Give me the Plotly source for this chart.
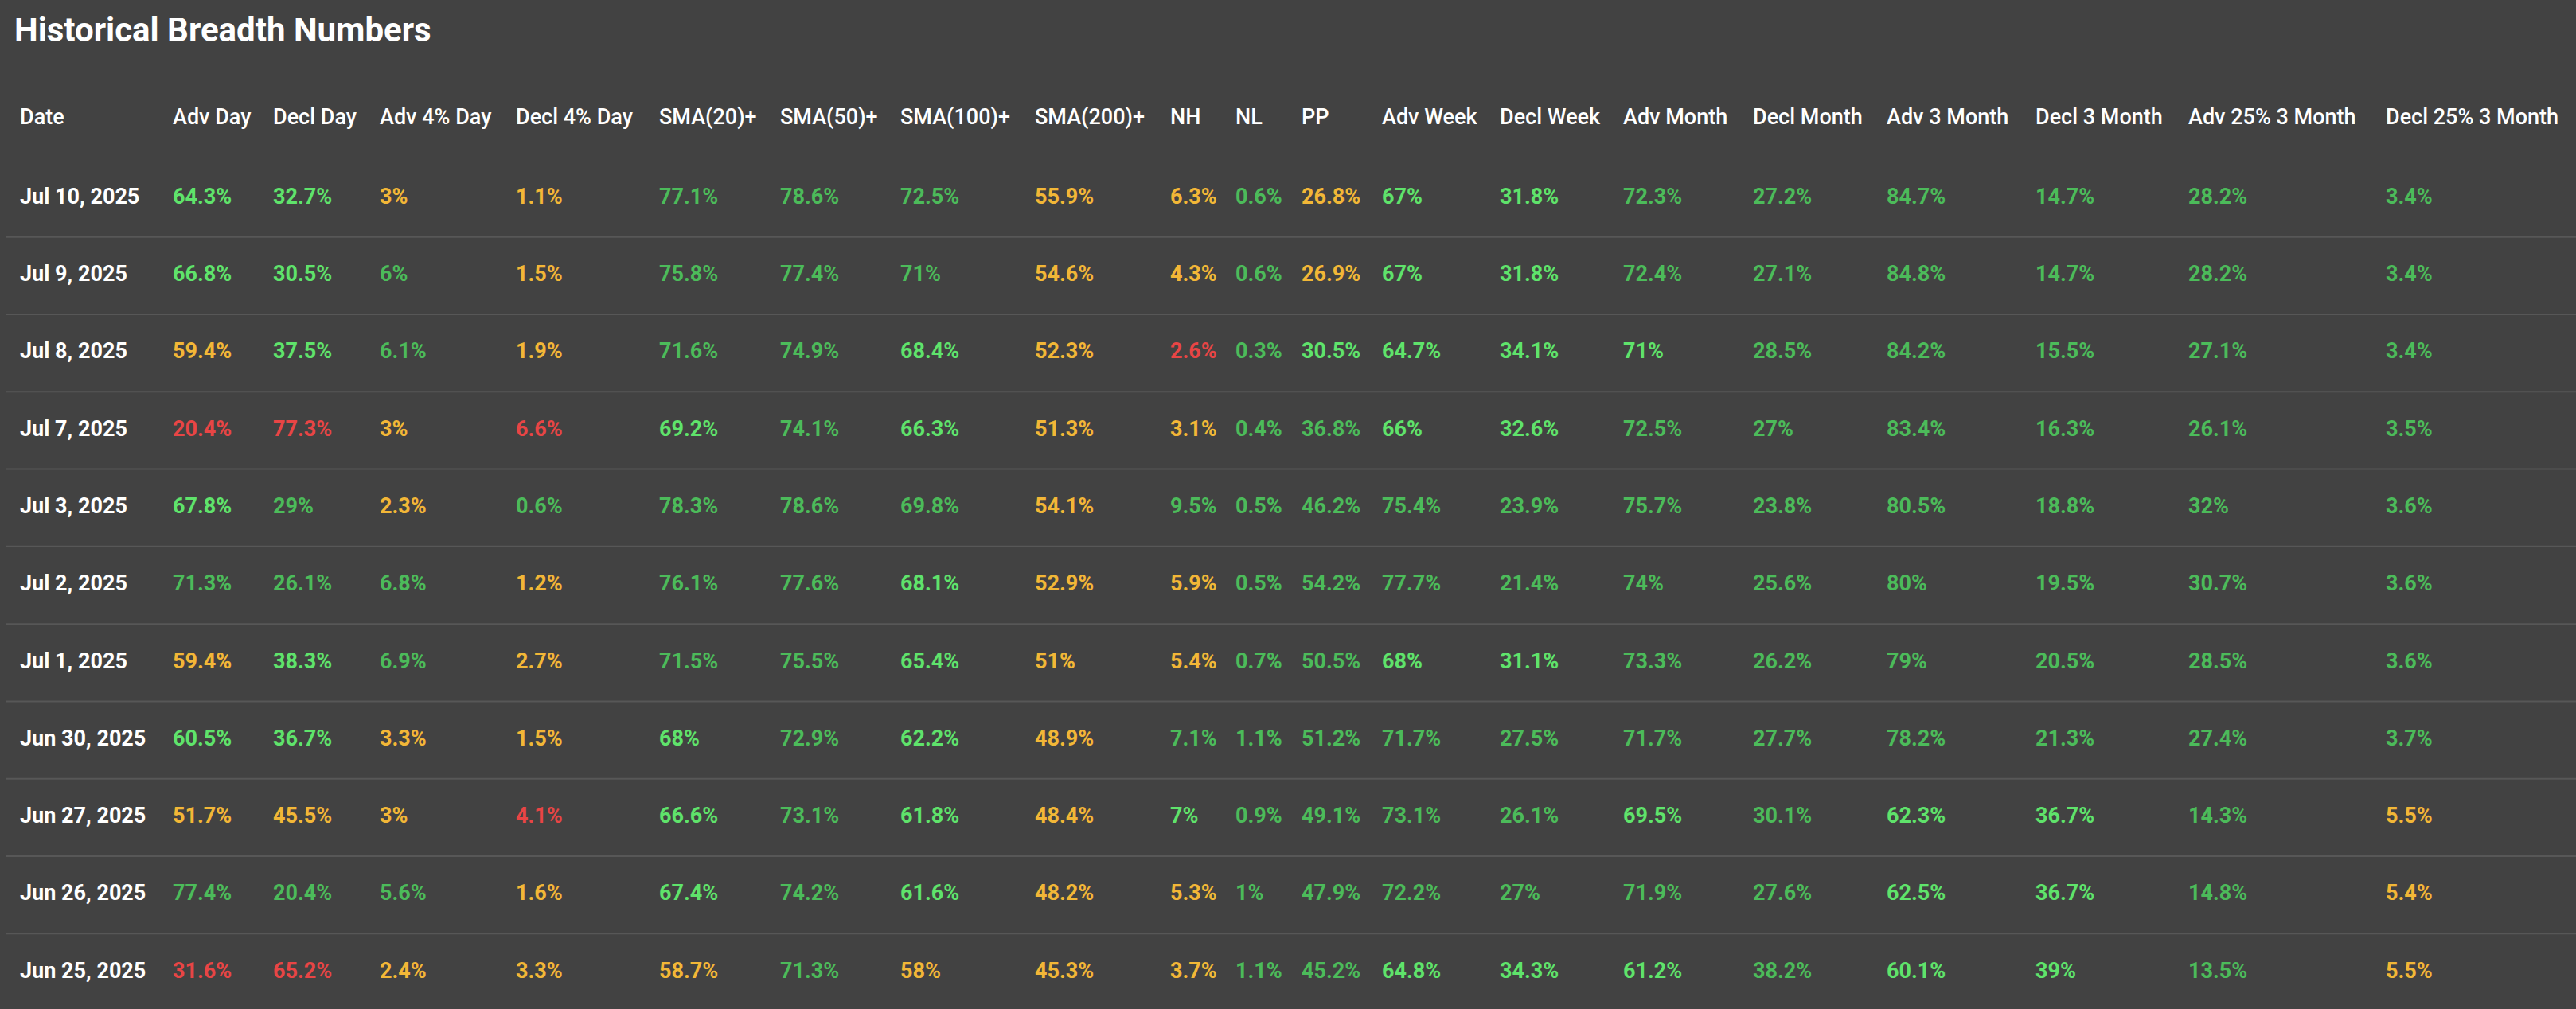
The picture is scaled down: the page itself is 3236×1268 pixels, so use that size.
import plotly.graph_objects as go

title = "Historical Breadth Numbers"
headers = ["Date", "Adv Day", "Decl Day", "Adv 4% Day", "Decl 4% Day", "SMA(20)+", "SMA(50)+",
           "SMA(100)+", "SMA(200)+", "NH", "NL", "PP", "Adv Week", "Decl Week", "Adv Month",
           "Decl Month", "Adv 3 Month", "Decl 3 Month", "Adv 25% 3 Month", "Decl 25% 3 Month"]
dates = ["Jul 10, 2025", "Jul 9, 2025", "Jul 8, 2025", "Jul 7, 2025", "Jul 3, 2025", "Jul 2, 2025",
         "Jul 1, 2025", "Jun 30, 2025", "Jun 27, 2025", "Jun 26, 2025", "Jun 25, 2025"]
values = [
    ["64.3%", "32.7%", "3%", "1.1%", "77.1%", "78.6%", "72.5%", "55.9%", "6.3%", "0.6%", "26.8%", "67%", "31.8%", "72.3%", "27.2%", "84.7%", "14.7%", "28.2%", "3.4%"],
    ["66.8%", "30.5%", "6%", "1.5%", "75.8%", "77.4%", "71%", "54.6%", "4.3%", "0.6%", "26.9%", "67%", "31.8%", "72.4%", "27.1%", "84.8%", "14.7%", "28.2%", "3.4%"],
    ["59.4%", "37.5%", "6.1%", "1.9%", "71.6%", "74.9%", "68.4%", "52.3%", "2.6%", "0.3%", "30.5%", "64.7%", "34.1%", "71%", "28.5%", "84.2%", "15.5%", "27.1%", "3.4%"],
    ["20.4%", "77.3%", "3%", "6.6%", "69.2%", "74.1%", "66.3%", "51.3%", "3.1%", "0.4%", "36.8%", "66%", "32.6%", "72.5%", "27%", "83.4%", "16.3%", "26.1%", "3.5%"],
    ["67.8%", "29%", "2.3%", "0.6%", "78.3%", "78.6%", "69.8%", "54.1%", "9.5%", "0.5%", "46.2%", "75.4%", "23.9%", "75.7%", "23.8%", "80.5%", "18.8%", "32%", "3.6%"],
    ["71.3%", "26.1%", "6.8%", "1.2%", "76.1%", "77.6%", "68.1%", "52.9%", "5.9%", "0.5%", "54.2%", "77.7%", "21.4%", "74%", "25.6%", "80%", "19.5%", "30.7%", "3.6%"],
    ["59.4%", "38.3%", "6.9%", "2.7%", "71.5%", "75.5%", "65.4%", "51%", "5.4%", "0.7%", "50.5%", "68%", "31.1%", "73.3%", "26.2%", "79%", "20.5%", "28.5%", "3.6%"],
    ["60.5%", "36.7%", "3.3%", "1.5%", "68%", "72.9%", "62.2%", "48.9%", "7.1%", "1.1%", "51.2%", "71.7%", "27.5%", "71.7%", "27.7%", "78.2%", "21.3%", "27.4%", "3.7%"],
    ["51.7%", "45.5%", "3%", "4.1%", "66.6%", "73.1%", "61.8%", "48.4%", "7%", "0.9%", "49.1%", "73.1%", "26.1%", "69.5%", "30.1%", "62.3%", "36.7%", "14.3%", "5.5%"],
    ["77.4%", "20.4%", "5.6%", "1.6%", "67.4%", "74.2%", "61.6%", "48.2%", "5.3%", "1%", "47.9%", "72.2%", "27%", "71.9%", "27.6%", "62.5%", "36.7%", "14.8%", "5.4%"],
    ["31.6%", "65.2%", "2.4%", "3.3%", "58.7%", "71.3%", "58%", "45.3%", "3.7%", "1.1%", "45.2%", "64.8%", "34.3%", "61.2%", "38.2%", "60.1%", "39%", "13.5%", "5.5%"],
]
# colour class per cell: G bright green, g green, y amber, r red
classes = [
    "GGyygggyygyGGgggggg",
    "GGgygggyygyGGgggggg",
    "yGgyggGyrgGGGGggggg",
    "rryrGgGyyggGGgggggg",
    "Ggygggggyggggggggggg"[:0] + "Ggyggggyggggggggggg",
    "gggyggGyygggggggggg",
    "yGgyggGyyggGGgggggg",
    "GGyyGgGyggggggggggg",
    "yyyrGgGyGggggGgGGgy",
    "gggyGgGyyggggggGGgy",
    "rryyygyyyggGGGgGGgy",
]

palette = {"G": "#5fe36b", "g": "#4cbb5a", "y": "#f2b737", "r": "#e84545"}
col_x = [25, 217, 343, 477, 648, 828, 980, 1131, 1300, 1470, 1552, 1635, 1736, 1884, 2039, 2202, 2370, 2557, 2749, 2997]
row0, step = 249, 97.3
BG = "#424242"

fig = go.Figure()
fig.add_trace(go.Scatter(x=col_x, y=[-1.03] * len(headers), mode="text", text=headers,
                         textposition="middle right", hoverinfo="skip",
                         textfont=dict(family="Roboto", size=27, color="#ffffff", weight=500)))
for i, (d, row, cls) in enumerate(zip(dates, values, classes)):
    fig.add_trace(go.Scatter(x=col_x, y=[i] * len(col_x), mode="text", text=[d] + row,
                             textposition="middle right", hoverinfo="skip",
                             textfont=dict(family="Roboto", size=27, weight="bold",
                                           color=["#ffffff"] + [palette[c] for c in cls])))
for i in range(len(dates) - 1):
    fig.add_shape(type="line", x0=8, x1=3236, y0=i + 0.5, y1=i + 0.5, xref="x", yref="y",
                  line=dict(color="#575757", width=2), layer="below")

fig.add_annotation(text=title, xref="paper", yref="paper", x=16 / 3236, y=1 - 37 / 1268,
                   xanchor="left", yanchor="middle", showarrow=False,
                   font=dict(family="Roboto", size=42, color="#ffffff", weight="bold"))

fig.update_layout(width=3236, height=1268, margin=dict(l=0, r=0, t=0, b=0),
                  paper_bgcolor=BG, plot_bgcolor=BG, showlegend=False,
                  xaxis=dict(range=[0, 3236], visible=False, fixedrange=True),
                  yaxis=dict(range=[(1268 - row0) / step, -row0 / step], visible=False, fixedrange=True))
fig.write_html("out.html", config={"displayModeBar": False},
               post_script="document.body.style.margin='0';document.body.style.background='#424242';")
